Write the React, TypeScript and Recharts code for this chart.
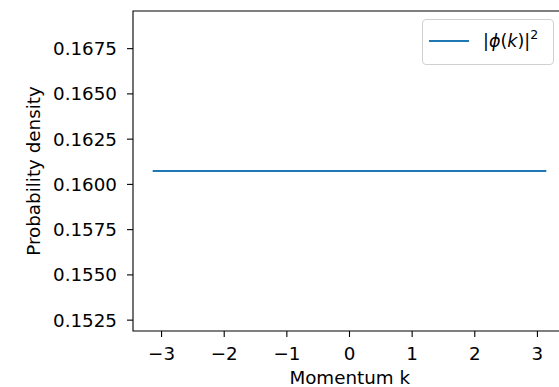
import { LineChart, Line, XAxis, YAxis, ReferenceArea, Legend } from 'recharts';

const momentum = [-3.1416, -2.3562, -1.5708, -0.7854, 0, 0.7854, 1.5708, 2.3562, 3.1416];
const density = [0.16074, 0.16074, 0.16074, 0.16074, 0.16074, 0.16074, 0.16074, 0.16074, 0.16074];
const kTicks = [-3, -2, -1, 0, 1, 2, 3];
const densityTicks = [0.1525, 0.155, 0.1575, 0.16, 0.1625, 0.165, 0.1675];
const kDomain = [-3.456, 3.456];
const densityDomain = [0.1519, 0.16958];

const data = momentum.map((k, i) => ({ k, p: density[i] }));

const FONT = '"DejaVu Sans", sans-serif';
const FS = 18.3;

const fmtK = (v: number) => (v < 0 ? '\u2212' + Math.abs(v) : String(v));

const YLabel = () => (
  <text
    x={33}
    y={171}
    transform="rotate(-90 33 171)"
    textAnchor="middle"
    dominantBaseline="central"
    fill="#000"
    style={{ fontFamily: FONT, fontSize: FS }}
  >
    Probability density
  </text>
);

const XLabel = () => (
  <text x={349.7} y={384} textAnchor="middle" fill="#000" style={{ fontFamily: FONT, fontSize: FS }}>
    Momentum k
  </text>
);

const LegendBox = () => (
  <div
    style={{
      boxSizing: 'border-box',
      width: 132,
      height: 46,
      border: '1px solid #d0d0d0',
      borderRadius: 4,
      background: 'rgba(255,255,255,0.8)',
      position: 'relative',
      fontFamily: FONT,
      fontSize: 17.5,
      color: '#000',
    }}
  >
    <div style={{ position: 'absolute', left: 6, top: 20, width: 40, height: 2, background: '#1f77b4' }} />
    <div style={{ position: 'absolute', left: 60, top: 8, whiteSpace: 'nowrap', lineHeight: '26px' }}>
      |<i>ϕ</i>(<i>k</i>)|<sup style={{ fontSize: 12.5, verticalAlign: 8, lineHeight: 0 }}>2</sup>
    </div>
  </div>
);

export default function App() {
  return (
    <div style={{ position: 'fixed', left: 0, top: 0, width: 559, height: 387, overflow: 'hidden', background: '#fff' }}>
      <LineChart width={575} height={387} data={data} margin={{ top: 11, right: 9, left: 0, bottom: 0 }}>
        <XAxis
          dataKey="k"
          type="number"
          domain={kDomain}
          ticks={kTicks}
          tickFormatter={fmtK}
          axisLine={false}
          tickLine={{ stroke: '#000', strokeWidth: 1.1 }}
          tickSize={6}
          tickMargin={10}
          height={56}
          tick={{ fill: '#000', fontSize: FS, fontFamily: FONT }}
          label={<XLabel />}
          allowDataOverflow
        />
        <YAxis
          type="number"
          domain={densityDomain}
          ticks={densityTicks}
          tickFormatter={(v: number) => v.toFixed(4)}
          axisLine={false}
          tickLine={{ stroke: '#000', strokeWidth: 1.1 }}
          tickSize={6}
          tickMargin={10}
          width={133}
          tick={{ fill: '#000', fontSize: FS, fontFamily: FONT }}
          label={<YLabel />}
          allowDataOverflow
        />
        <ReferenceArea
          x1={kDomain[0]}
          x2={kDomain[1]}
          y1={densityDomain[0]}
          y2={densityDomain[1]}
          fill="none"
          fillOpacity={0}
          stroke="#000"
          strokeWidth={1.1}
          ifOverflow="visible"
        />
        <Line
          type="linear"
          dataKey="p"
          stroke="#1f77b4"
          strokeWidth={2.1}
          dot={false}
          isAnimationActive={false}
        />
        <Legend
          layout="horizontal"
          align="center"
          verticalAlign="middle"
          content={<LegendBox />}
          wrapperStyle={{ left: 422, top: 19, width: 132, height: 46 }}
        />
      </LineChart>
    </div>
  );
}
